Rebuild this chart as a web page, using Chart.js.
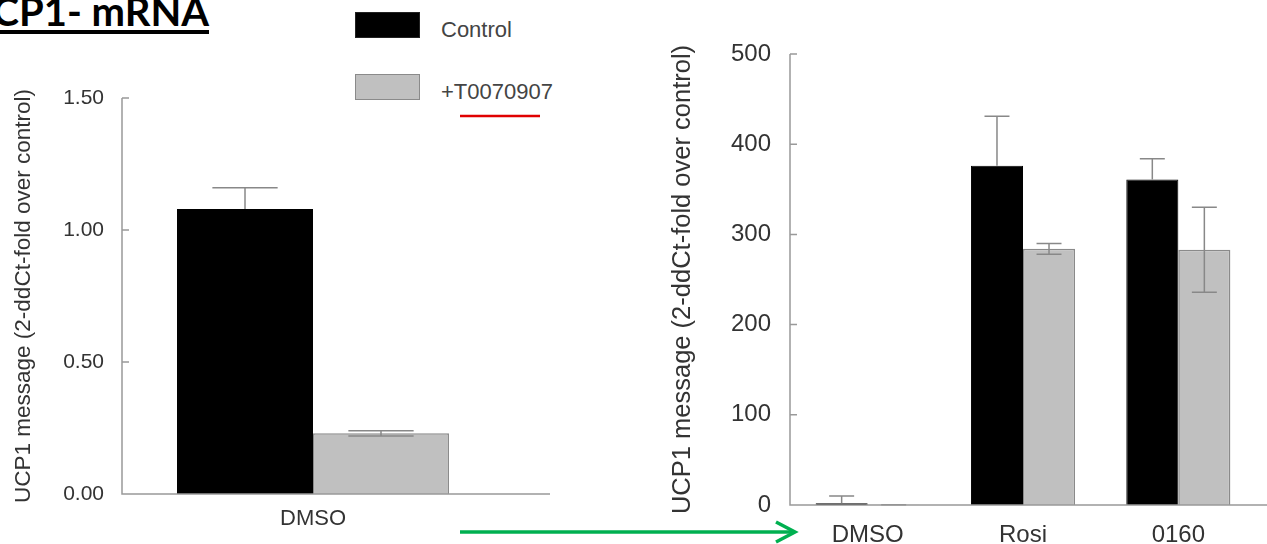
<!DOCTYPE html>
<html>
<head>
<meta charset="utf-8">
<script src="https://cdn.jsdelivr.net/npm/chart.js@4/dist/chart.umd.min.js"></script>
<style>
html, body { margin: 0; padding: 0; background: #fff; width: 1267px; height: 544px; overflow: hidden; position: relative; }
canvas { position: absolute; top: 0; }
#leftChart { left: 0; }
#rightChart { left: 660px; }
.title { position: absolute; right: 1058px; top: -9px; font: bold 40px Lato; line-height: 40px; white-space: nowrap; color: #000; }
.uline { position: absolute; left: 0; top: 30px; width: 209px; height: 4px; background: #000; }
.swatch { position: absolute; left: 355px; width: 63px; height: 24px; }
.leg { position: absolute; left: 441px; font: 22px "Liberation Sans", Arial, sans-serif; color: #444; line-height: 24px; white-space: nowrap; }
svg { position: absolute; left: 0; top: 0; }
</style>
</head>
<body>
<div class="title">UCP1- mRNA</div>
<div class="uline"></div>

<div class="swatch" style="top:12px;background:#000;border:1px solid #222"></div>
<div class="leg" style="top:18px">Control</div>
<div class="swatch" style="top:74px;background:#c0c0c0;border:1px solid #8a8a8a"></div>
<div class="leg" style="top:80px">+T0070907</div>

<canvas id="leftChart" width="560" height="544"></canvas>
<canvas id="rightChart" width="607" height="544"></canvas>

<svg width="1267" height="544">
  <line x1="460" y1="116" x2="540" y2="116" stroke="#e00000" stroke-width="2.5"/>
  <line x1="460" y1="532" x2="792" y2="532" stroke="#00b050" stroke-width="3.5"/>
  <polyline points="776,522 795,532 776,542" fill="none" stroke="#00b050" stroke-width="3.5"/>
</svg>

<script>
// values
const seriesNames = ["Control", "+T0070907"]
const yTitle = "UCP1 message (2-ddCt-fold over control)"

const leftCategories = ["DMSO"]
const leftControl = [1.08]
const leftControlErr = [0.08]
const leftT007 = [0.23]
const leftT007Err = [0.01]
const leftTicks = [0, 0.5, 1.0, 1.5]

const rightCategories = ["DMSO", "Rosi", "0160"]
const rightControl = [2, 376, 361]
const rightControlErr = [8, 55, 23]
const rightT007 = [0.23, 284, 283]
const rightT007Err = [0.01, 6, 47]
const rightTicks = [0, 100, 200, 300, 400, 500]

const fontFamily = '"Liberation Sans", Arial, sans-serif'

// error bars: control only upward (lower half sits inside the black bar)
const errorBars = {
    id: 'errorBars',
    afterDatasetsDraw(chart) {
        const ctx = chart.ctx
        const y = chart.scales.y
        chart.data.datasets.forEach((ds, i) => {
            const meta = chart.getDatasetMeta(i)
            meta.data.forEach((bar, j) => {
                const v = ds.data[j], e = ds.errors[j]
                const top = y.getPixelForValue(v + e)
                const bottom = i == 0 ? bar.y : y.getPixelForValue(v - e)
                const half = bar.width * 0.24
                ctx.save()
                ctx.strokeStyle = '#888'
                ctx.lineWidth = 1.5
                ctx.beginPath()
                ctx.moveTo(bar.x, top); ctx.lineTo(bar.x, bottom)
                ctx.moveTo(bar.x - half, top); ctx.lineTo(bar.x + half, top)
                if (i != 0) { ctx.moveTo(bar.x - half, bottom); ctx.lineTo(bar.x + half, bottom) }
                ctx.stroke()
                ctx.restore()
            })
        })
    }
}

// axis lines with inward ticks, x axis runs past the last category
const axes = {
    id: 'axes',
    afterDraw(chart, args, opts) {
        const ctx = chart.ctx, a = chart.chartArea, y = chart.scales.y
        ctx.save()
        ctx.strokeStyle = '#999'
        ctx.lineWidth = 1.5
        ctx.beginPath()
        ctx.moveTo(a.left, a.top); ctx.lineTo(a.left, a.bottom); ctx.lineTo(opts.xEnd, a.bottom)
        y.ticks.forEach(t => {
            const p = y.getPixelForValue(t.value)
            ctx.moveTo(a.left, p); ctx.lineTo(a.left + 7, p)
        })
        ctx.stroke()
        ctx.restore()
    }
}

function makeChart(id, cats, ctrl, ctrlErr, t007, t007Err, ticks, opts) {
    return new Chart(document.getElementById(id), {
        type: 'bar',
        data: {
            labels: cats,
            datasets: [
                { label: seriesNames[0], data: ctrl, errors: ctrlErr, backgroundColor: '#000', borderColor: '#000', borderWidth: 1 },
                { label: seriesNames[1], data: t007, errors: t007Err, backgroundColor: '#c0c0c0', borderColor: '#8a8a8a', borderWidth: 1.5 }
            ]
        },
        options: {
            responsive: false,
            animation: false,
            datasets: { bar: { categoryPercentage: opts.catPct, barPercentage: 1 } },
            layout: { padding: opts.padding },
            plugins: {
                legend: { display: false },
                tooltip: { enabled: false },
                axes: { xEnd: opts.xEnd }
            },
            scales: {
                x: {
                    grid: { display: false, drawTicks: false },
                    border: { display: false },
                    ticks: { padding: opts.xPad, color: '#333', font: { size: opts.xFont, family: fontFamily } },
                    afterFit: s => { s.height = opts.xHeight }
                },
                y: {
                    min: ticks[0],
                    max: ticks[ticks.length - 1],
                    afterBuildTicks: s => { s.ticks = ticks.map(v => ({ value: v })) },
                    grid: { display: false, drawTicks: false },
                    border: { display: false },
                    ticks: { padding: opts.yPad, color: '#333', font: { size: opts.yFont, family: fontFamily }, callback: opts.fmt },
                    title: { display: true, text: yTitle, color: '#333', font: { size: opts.titleFont, family: fontFamily }, padding: { top: opts.titlePad, bottom: 0 } },
                    afterFit: s => { s.width = opts.yWidth }
                }
            }
        },
        plugins: [errorBars, axes]
    })
}

makeChart('leftChart', leftCategories, leftControl, leftControlErr, leftT007, leftT007Err, leftTicks, {
    catPct: 0.712,
    padding: { top: 98, left: 0, right: 56, bottom: 10 },
    xEnd: 550,
    xPad: 12, xFont: 22, xHeight: 40,
    yPad: 18, yFont: 21, yWidth: 122,
    titleFont: 22.5, titlePad: 10,
    fmt: v => Number(v).toFixed(2)
})

makeChart('rightChart', rightCategories, rightControl, rightControlErr, rightT007, rightT007Err, rightTicks, {
    catPct: 0.67,
    padding: { top: 54, left: 0, right: 11, bottom: 0 },
    xEnd: 607,
    xPad: 16, xFont: 24, xHeight: 39,
    yPad: 19, yFont: 24, yWidth: 130,
    titleFont: 25.5, titlePad: 8,
    fmt: v => String(v)
})
</script>
</body>
</html>
